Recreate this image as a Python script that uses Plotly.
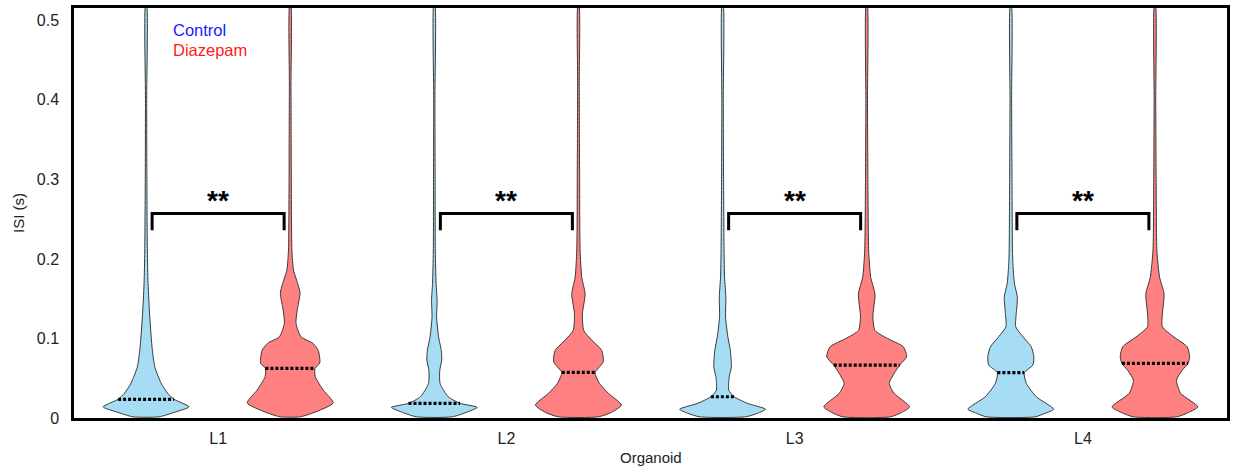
import numpy as np
import plotly.graph_objects as go

# ---------------- data ----------------
organoids = ["L1", "L2", "L3", "L4"]
groups = ["Control", "Diazepam"]

# ISI levels (s) and relative kernel density
l1_control_isi = [0.0015, 0.007, 0.014, 0.0235, 0.031, 0.044, 0.064, 0.085, 0.127, 0.169, 0.21, 0.3, 0.4, 0.52]
l1_control_den = [13, 28, 43, 28, 21.7, 15, 8.8, 6.3, 3.7, 2.0, 1.3, 0.8, 0.6, 0.5]

l1_diazepam_isi = [0.0015, 0.008, 0.019, 0.035, 0.052, 0.0623, 0.069, 0.085, 0.094, 0.102, 0.119, 0.1355,
                   0.157, 0.169, 0.186, 0.211, 0.25, 0.3, 0.35, 0.42, 0.52]
l1_diazepam_den = [10, 26, 42.8, 33, 25, 24.7, 29.5, 28, 22.5, 10.8, 5.8, 7, 9.8, 7.5, 3.3, 1.7, 1.3, 1.1,
                   1.0, 0.8, 0.5]

l2_control_isi = [0.0015, 0.007, 0.0134, 0.0184, 0.0267, 0.0435, 0.060, 0.073, 0.085, 0.102, 0.127, 0.148,
                  0.169, 0.21, 0.3, 0.4, 0.52]
l2_control_den = [18, 32, 43.3, 26, 14, 5.8, 5.5, 7.5, 7, 4.3, 2.3, 2.8, 1.8, 1.0, 0.8, 0.6, 0.5]

l2_diazepam_isi = [0.0015, 0.007, 0.0163, 0.031, 0.0435, 0.052, 0.0573, 0.0707, 0.085, 0.098, 0.110, 0.131,
                   0.156, 0.177, 0.21, 0.25, 0.3, 0.35, 0.42, 0.52]
l2_diazepam_den = [20, 33, 43, 30, 21, 17.8, 16.7, 24.8, 23.3, 13.3, 5.3, 4, 6.7, 3.3, 1.7, 1.3, 1.2, 1.0,
                   0.8, 0.5]

l3_control_isi = [0.0015, 0.006, 0.011, 0.0184, 0.0267, 0.035, 0.052, 0.064, 0.085, 0.102, 0.127, 0.152,
                  0.177, 0.21, 0.3, 0.4, 0.52]
l3_control_den = [23, 35, 43, 25, 11.7, 6.2, 6.7, 8.8, 7.8, 5.3, 3, 3.3, 2, 1.5, 1.0, 0.7, 0.5]

l3_diazepam_isi = [0.0015, 0.007, 0.014, 0.031, 0.0435, 0.056, 0.0665, 0.077, 0.0895, 0.100, 0.110, 0.127,
                   0.156, 0.177, 0.21, 0.3, 0.4, 0.52]
l3_diazepam_den = [24, 35, 43, 27.5, 22.5, 27.5, 33, 40, 36.7, 20.8, 8.3, 6.2, 8.3, 4, 2, 1.2, 0.8, 0.5]

l4_control_isi = [0.0015, 0.006, 0.011, 0.0267, 0.0435, 0.057, 0.0665, 0.077, 0.0895, 0.102, 0.1146, 0.131,
                  0.152, 0.169, 0.19, 0.21, 0.3, 0.4, 0.52]
l4_control_den = [25, 35, 43.8, 26, 15.8, 13.7, 22.5, 23.5, 20.8, 12.5, 5, 5.5, 6.7, 3.7, 2.3, 1.7, 1.2,
                  0.8, 0.5]

l4_diazepam_isi = [0.0015, 0.007, 0.014, 0.031, 0.0477, 0.060, 0.0686, 0.077, 0.0895, 0.102, 0.1146, 0.131,
                   0.156, 0.177, 0.21, 0.3, 0.4, 0.52]
l4_diazepam_den = [22, 34, 43.3, 26, 21.7, 27.5, 33.3, 35, 32.5, 19, 7.5, 7.5, 9.2, 4.7, 2, 1.2, 0.8, 0.5]

control_medians = [0.0235, 0.0184, 0.0267, 0.057]
diazepam_medians = [0.0623, 0.0573, 0.0665, 0.0686]
significance = ["**", "**", "**", "**"]

y_ticks = [0, 0.1, 0.2, 0.3, 0.4, 0.5]
y_tick_labels = ["0", "0.1", "0.2", "0.3", "0.4", "0.5"]

profiles = {
    ("L1", "Control"): (l1_control_isi, l1_control_den),
    ("L1", "Diazepam"): (l1_diazepam_isi, l1_diazepam_den),
    ("L2", "Control"): (l2_control_isi, l2_control_den),
    ("L2", "Diazepam"): (l2_diazepam_isi, l2_diazepam_den),
    ("L3", "Control"): (l3_control_isi, l3_control_den),
    ("L3", "Diazepam"): (l3_diazepam_isi, l3_diazepam_den),
    ("L4", "Control"): (l4_control_isi, l4_control_den),
    ("L4", "Diazepam"): (l4_diazepam_isi, l4_diazepam_den),
}
medians = {"Control": control_medians, "Diazepam": diazepam_medians}

# ---------------- style ----------------
FONT = "Liberation Sans, Arial, sans-serif"
FILL = {"Control": "#a6dcf4", "Diazepam": "#ff8080"}
TEXT_COL = {"Control": "#1a1aff", "Diazepam": "#ff1a1a"}
OFFSET = {"Control": -0.25, "Diazepam": 0.25}
HALF_W = 0.149
BR_HALF = 0.229
BR_TOP = 0.257
BR_LEG = 0.236
STAR_Y = 0.274
Y_MAX = 0.5155

fig = go.Figure()

for i, org in enumerate(organoids):
    for g in groups:
        ys, dens = profiles[(org, g)]
        ys = np.asarray(ys, float)
        dens = np.asarray(dens, float)
        hw = dens / dens.max() * HALF_W
        c = i + OFFSET[g]
        xs = np.concatenate([c - hw, (c + hw)[::-1], [c - hw[0]]])
        yy = np.concatenate([ys, ys[::-1], [ys[0]]])
        fig.add_trace(go.Scatter(
            x=xs, y=yy, mode="lines", fill="toself", fillcolor=FILL[g],
            line=dict(color="#3a3a3a", width=1, shape="spline", smoothing=0.6),
            hoverinfo="skip", showlegend=False))
        m = medians[g][i]
        mw = np.interp(m, ys, dens) / dens.max() * HALF_W
        fig.add_trace(go.Scatter(
            x=[c - mw, c + mw], y=[m, m], mode="lines",
            line=dict(color="black", width=3.2, dash="3px,2px"),
            hoverinfo="skip", showlegend=False))

    # significance bracket
    fig.add_trace(go.Scatter(
        x=[i - BR_HALF, i - BR_HALF, i + BR_HALF, i + BR_HALF],
        y=[BR_LEG, BR_TOP, BR_TOP, BR_LEG], mode="lines",
        line=dict(color="black", width=3), hoverinfo="skip", showlegend=False))
    fig.add_annotation(x=i, y=STAR_Y, text="<b>" + significance[i] + "</b>", showarrow=False,
                       font=dict(family=FONT, size=28, color="black"),
                       xanchor="center", yanchor="middle")

# group labels (legend text)
fig.add_annotation(xref="paper", yref="paper", x=0, y=1, xshift=97, yshift=-22,
                   text="Control", showarrow=False, xanchor="left", yanchor="middle",
                   font=dict(family=FONT, size=16.5, color=TEXT_COL["Control"]))
fig.add_annotation(xref="paper", yref="paper", x=0, y=1, xshift=97, yshift=-42,
                   text="Diazepam", showarrow=False, xanchor="left", yanchor="middle",
                   font=dict(family=FONT, size=16.5, color=TEXT_COL["Diazepam"]))

# axis titles
fig.add_annotation(xref="paper", yref="paper", x=0, y=0.5, xshift=-56,
                   text="ISI (s)", textangle=-90, showarrow=False,
                   xanchor="center", yanchor="middle",
                   font=dict(family=FONT, size=15, color="#222"))
fig.add_annotation(xref="paper", yref="paper", x=0.5, y=0, yshift=-39,
                   text="Organoid", showarrow=False,
                   xanchor="center", yanchor="middle",
                   font=dict(family=FONT, size=15, color="#222"))

fig.update_layout(
    width=1235, height=469,
    margin=dict(l=74, r=5, t=7, b=51),
    paper_bgcolor="white", plot_bgcolor="white",
    font=dict(family=FONT, size=16, color="#222"),
    showlegend=False,
)
fig.update_xaxes(range=[-0.5, 3.5], tickvals=list(range(len(organoids))), ticktext=organoids,
                 showgrid=False, zeroline=False, showline=True, linecolor="black",
                 linewidth=2.5, mirror=True, ticks="", ticklabelstandoff=4,
                 tickfont=dict(family=FONT, size=16, color="#222"))
fig.update_yaxes(range=[0, Y_MAX], tickvals=y_ticks, ticktext=y_tick_labels,
                 showgrid=False, zeroline=False, showline=True, linecolor="black",
                 linewidth=2.5, mirror=True, ticks="", ticklabelstandoff=9,
                 tickfont=dict(family=FONT, size=16, color="#222"))

fig.write_html("out.html")
